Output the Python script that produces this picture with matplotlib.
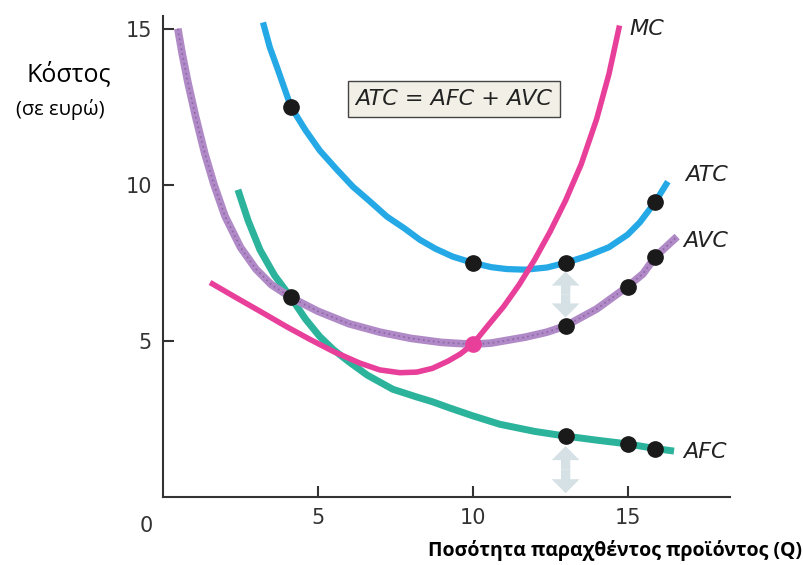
import matplotlib
matplotlib.use("Agg")
import matplotlib.pyplot as plt
from matplotlib.patches import FancyArrow

# (Q, cost in euro)
atc_q = [3.23, 3.45, 3.68, 4.13, 4.6, 5.06, 5.6, 6.13, 6.7, 7.23, 7.8, 8.29, 8.8, 9.35, 10.0,
         10.6, 11.1, 11.7, 12.4, 13.0, 13.7, 14.4, 15.0, 15.4, 15.9, 16.3]
atc_c = [15.2, 14.4, 13.77, 12.5, 11.75, 11.1, 10.5, 9.94, 9.45, 8.98, 8.6, 8.24, 7.95, 7.7, 7.5,
         7.36, 7.3, 7.28, 7.35, 7.5, 7.72, 8.0, 8.4, 8.8, 9.46, 10.1]

avc_q = [0.48, 0.62, 0.8, 1.05, 1.35, 1.65, 2.0, 2.5, 3.0, 3.5, 4.13, 5.0, 6.0, 7.0, 8.0, 9.0, 10.0,
         10.6, 11.7, 12.4, 13.0, 14.0, 15.0, 15.5, 15.9, 16.6]
avc_c = [15.0, 14.2, 13.3, 12.2, 11.0, 10.0, 9.0, 8.0, 7.3, 6.8, 6.39, 5.95, 5.55, 5.28, 5.08, 4.95, 4.89,
         4.93, 5.12, 5.28, 5.48, 6.02, 6.74, 7.15, 7.7, 8.34]

afc_q = [2.42, 2.75, 3.13, 3.6, 4.13, 4.6, 5.06, 5.5, 6.03, 6.6, 7.42, 8.2, 8.7, 9.26, 10.0,
         10.87, 12.0, 13.0, 14.0, 15.0, 15.9, 16.5]
afc_c = [9.84, 8.85, 7.92, 7.1, 6.39, 5.7, 5.14, 4.72, 4.31, 3.9, 3.45, 3.2, 3.05, 2.85, 2.6,
         2.33, 2.1, 1.95, 1.82, 1.7, 1.55, 1.47]

mc_q = [1.52, 2.3, 3.13, 4.0, 4.74, 5.5, 6.35, 7.0, 7.65, 8.2, 8.7, 9.2, 9.6, 10.0, 10.5, 11.0,
        11.5, 12.0, 12.5, 13.0, 13.5, 14.0, 14.4, 14.74]
mc_c = [6.87, 6.42, 5.95, 5.45, 5.05, 4.66, 4.29, 4.07, 3.98, 4.0, 4.12, 4.35, 4.58, 4.89, 5.5, 6.1,
        6.8, 7.6, 8.5, 9.5, 10.65, 12.1, 13.55, 15.1]

dot_q = [4.13, 10.0, 13.0, 15.9, 4.13, 13.0, 15.0, 15.9, 13.0, 15.0, 15.9]
dot_c = [12.5, 7.5, 7.5, 9.46, 6.39, 5.48, 6.74, 7.7, 1.95, 1.7, 1.55]
mc_avc_q, mc_avc_c = 10.0, 4.89

# double arrows at Q = 13: (low tip, high tip)
arrow_q = 13.0
arrow_spans = [(5.75, 7.22), (0.12, 1.63)]

fig = plt.figure(figsize=(8.04, 5.65), dpi=100)
ax = fig.add_axes([0.2027, 0.1204, 0.705, 0.851])
ax.set_xlim(0, 18.3)
ax.set_ylim(0, 15.4)

ax.plot(afc_q, afc_c, color="#2bb39c", lw=5, solid_capstyle="butt", solid_joinstyle="round", zorder=3)
ax.plot(avc_q, avc_c, color="#b08ac6", lw=5.5, solid_capstyle="butt", solid_joinstyle="round", zorder=3)
ax.plot(avc_q, avc_c, color="#8e64a8", lw=1.2, ls=(0, (1, 2)), zorder=3)
ax.plot(atc_q, atc_c, color="#25a9e6", lw=4.5, solid_capstyle="butt", solid_joinstyle="round", zorder=3)
ax.plot(mc_q, mc_c, color="#e8409a", lw=4, solid_capstyle="butt", solid_joinstyle="round", zorder=4)

ax.plot(dot_q, dot_c, "o", color="#1a1a1a", ms=11, zorder=5)
ax.plot([mc_avc_q], [mc_avc_c], "o", color="#e8409a", ms=11, zorder=5)

for lo, hi in arrow_spans:
    mid = (lo + hi) / 2
    for tip in (lo, hi):
        ax.add_patch(FancyArrow(arrow_q, mid, 0, tip - mid, width=0.3, head_width=0.9,
                                head_length=0.45, length_includes_head=True,
                                fc="#d6e1e5", ec="none", zorder=2))

lab = dict(fontsize=16, style="italic", color="#222222", family="DejaVu Sans")
ax.text(15.05, 15.0, "MC", va="center", **lab)
ax.text(16.85, 10.3, "ATC", va="center", **lab)
ax.text(16.8, 8.2, "AVC", va="center", **lab)
ax.text(16.8, 1.45, "AFC", va="center", **lab)
ax.text(9.4, 12.75, "ATC = AFC + AVC", ha="center", va="center", **lab,
        bbox=dict(boxstyle="square,pad=0.35", fc="#f2f0e6", ec="#444444", lw=1))

for s in ["top", "right"]:
    ax.spines[s].set_visible(False)
for s in ["left", "bottom"]:
    ax.spines[s].set_color("#333333")
    ax.spines[s].set_linewidth(1.5)
ax.set_xticks([5, 10, 15])
ax.set_yticks([5, 10, 15])
ax.tick_params(direction="in", length=8, width=1.5, color="#333333",
               labelsize=15, labelcolor="#333333", pad=8)
ax.text(-0.55, -0.6, "0", ha="center", va="top", fontsize=15, color="#333333")

fig.text(0.086, 0.868, "Κόστος", ha="center", va="center", fontsize=18, family="Open Sans")
fig.text(0.075, 0.806, "(σε ευρώ)", ha="center", va="center", fontsize=14.5, family="Open Sans")
fig.text(0.997, 0.026, "Ποσότητα παραχθέντος προϊόντος (Q)", ha="right", va="center",
         fontsize=14, fontweight="bold", family="Open Sans")

fig.savefig("out.png", dpi=100)
